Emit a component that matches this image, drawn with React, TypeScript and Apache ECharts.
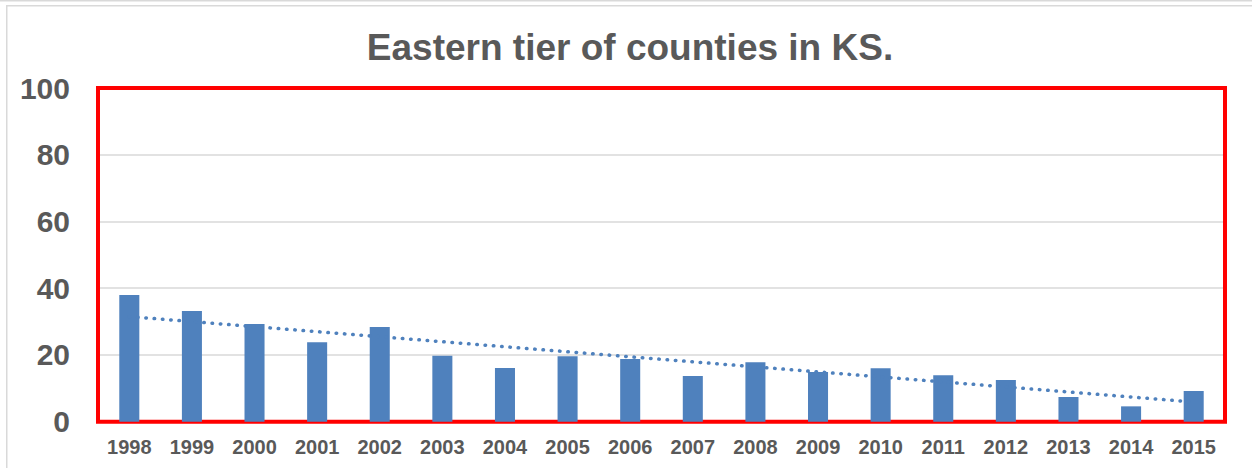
import React, { useEffect, useRef } from "react";
import * as echarts from "echarts";

const categories = ["1998","1999","2000","2001","2002","2003","2004","2005","2006","2007","2008","2009","2010","2011","2012","2013","2014","2015"];
const values = [38.0, 33.2, 29.3, 23.8, 28.4, 19.8, 16.1, 19.6, 18.8, 13.7, 17.8, 14.9, 16.0, 13.9, 12.5, 7.4, 4.6, 9.2];
// linear trendline endpoints (first and last category)
const trendEnds = [31.5, 5.9];
const yTicks = [0, 20, 40, 60, 80, 100];
const titleText = "Eastern tier of counties in KS.";

const FONT = "'Liberation Sans', Arial, sans-serif";
const GRAY = "#595959";
const BLUE = "#4F81BD";

const GRID = { left: 98, top: 88, right: 27, bottom: 46.3 };
const W = 1252;
const H = 468;

export default function App() {
  const ref = useRef<HTMLDivElement>(null);
  useEffect(() => {
    if (!ref.current) return;
    const chart = echarts.init(ref.current, null, { renderer: "svg" });
    chart.setOption({
      animation: false,
      backgroundColor: "#ffffff",
      graphic: [
        { type: "line", z: 0, shape: { x1: 0, y1: 0.75, x2: W, y2: 0.75 }, style: { stroke: "#d9d9d9", lineWidth: 1.5 }, silent: true },
        { type: "rect", z: 0, shape: { x: 6.75, y: 5.75, width: 1300, height: 600 }, style: { fill: "none", stroke: "#d9d9d9", lineWidth: 1.5 }, silent: true },
        {
          type: "rect",
          z: 1,
          shape: {
            x: GRID.left,
            y: GRID.top,
            width: W - GRID.left - GRID.right,
            height: H - GRID.top - GRID.bottom,
          },
          style: { fill: "none", stroke: "#FF0000", lineWidth: 4 },
          silent: true,
        },
        {
          type: "text",
          x: 630,
          y: 47,
          style: {
            text: titleText,
            font: `bold 37px ${FONT}`,
            fill: GRAY,
            textAlign: "center",
            textVerticalAlign: "middle",
          },
          silent: true,
        },
      ],
      grid: { ...GRID, show: false, containLabel: false },
      xAxis: {
        type: "category",
        data: categories,
        axisLine: { show: false },
        axisTick: { show: false },
        axisLabel: { color: GRAY, fontWeight: "bold", fontSize: 20, fontFamily: FONT, margin: 15, interval: 0 },
      },
      yAxis: {
        type: "value",
        min: yTicks[0],
        max: yTicks[yTicks.length - 1],
        interval: yTicks[1] - yTicks[0],
        axisLine: { show: false },
        axisTick: { show: false },
        splitLine: { lineStyle: { color: "#d9d9d9", width: 1.5 } },
        axisLabel: { color: GRAY, fontWeight: "bold", fontSize: 30, fontFamily: FONT, margin: 28 },
      },
      series: [
        {
          type: "bar",
          z: 2,
          data: values,
          barWidth: "32%",
          itemStyle: { color: BLUE },
          markLine: {
            silent: true,
            symbol: ["none", "none"],
            label: { show: false },
            lineStyle: { color: BLUE, width: 3.5, type: [0.5, 7.8], cap: "round" },
            data: [
              [
                { coord: [categories[0], trendEnds[0]] },
                { coord: [categories[categories.length - 1], trendEnds[1]] },
              ],
            ],
          },
        },
      ],
    });
    return () => chart.dispose();
  }, []);
  return <div ref={ref} style={{ width: W, height: H, position: "absolute", left: 0, top: 0 }} />;
}
